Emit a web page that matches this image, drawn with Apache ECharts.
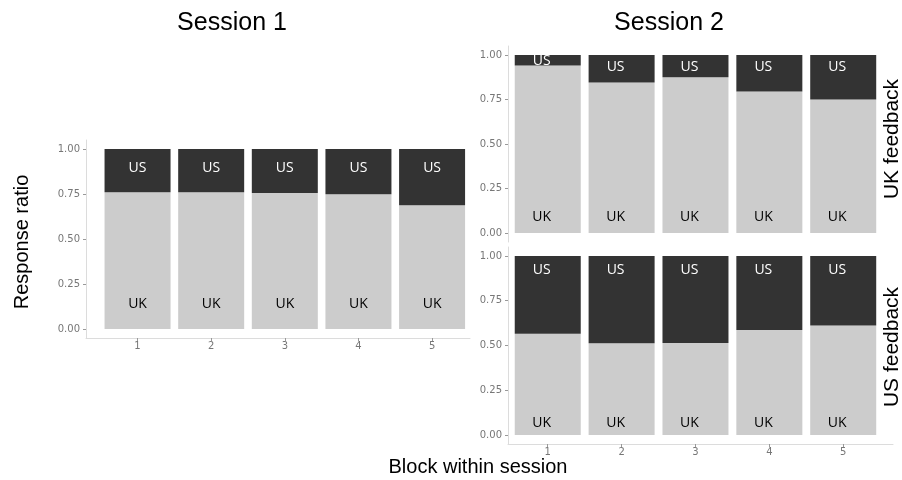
<!DOCTYPE html>
<html>
<head>
<meta charset="utf-8">
<script src="https://cdn.jsdelivr.net/npm/echarts@6/dist/echarts.min.js"></script>
<style>
  html, body { margin: 0; padding: 0; background: #fff; }
  #chart { width: 902px; height: 480px; }
</style>
</head>
<body>
<div id="chart"></div>
<script>
// block numbers (x) and tick values
const blocks = [1, 2, 3, 4, 5]
const ratioTicks = [0, 0.25, 0.5, 0.75, 1]

// session 1
const s1UK = [0.76, 0.76, 0.755, 0.748, 0.687]
const s1US = [0.24, 0.24, 0.245, 0.252, 0.313]
// session 2, UK feedback
const s2ukUK = [0.941, 0.845, 0.875, 0.795, 0.75]
const s2ukUS = [0.059, 0.155, 0.125, 0.205, 0.25]
// session 2, US feedback
const s2usUK = [0.566, 0.512, 0.514, 0.586, 0.612]
const s2usUS = [0.434, 0.488, 0.486, 0.414, 0.388]

const chart = echarts.init(document.getElementById('chart'))

const LIGHT = '#cccccc'
const DARK = '#333333'
const tickFont = { fontFamily: 'DejaVu Sans', fontSize: 10, color: '#777' }

// value first so that the stack goes on the ratio, block second (x)
const pairs = vals => blocks.map((b, i) => [vals[i], b])

const xAxisOf = (gridIndex, min, max, visible) => ({
  type: 'value',
  gridIndex,
  min,
  max,
  splitLine: { show: false },
  axisLine: { show: visible, onZero: false, lineStyle: { color: '#dcdcdc' } },
  axisTick: { show: visible, customValues: blocks, length: 3, lineStyle: { color: '#999' } },
  axisLabel: { show: visible, customValues: blocks, margin: 3, ...tickFont }
})

const yAxisOf = gridIndex => ({
  type: 'value',
  gridIndex,
  min: -0.05,
  max: 1.05,
  splitLine: { show: false },
  axisLine: { show: true, lineStyle: { color: '#dcdcdc' } },
  axisTick: { show: true, customValues: ratioTicks, length: 3, lineStyle: { color: '#999' } },
  axisLabel: {
    customValues: ratioTicks,
    margin: 6,
    formatter: v => v.toFixed(2),
    ...tickFont
  }
})

// one stacked pair of bars per panel
const panel = (idx, uk, us, ukDist, usDist, dx) => [
  {
    name: 'UK', type: 'bar', stack: 'p' + idx,
    xAxisIndex: idx, yAxisIndex: idx,
    barWidth: 66,
    encode: { x: 1, y: 0 },
    data: pairs(uk),
    itemStyle: { color: LIGHT },
    label: {
      show: true, position: 'insideBottom', distance: ukDist, offset: [dx, 0],
      formatter: 'UK', color: '#000', fontFamily: 'Open Sans', fontSize: 14
    },
    silent: true
  },
  {
    name: 'US', type: 'bar', stack: 'p' + idx,
    xAxisIndex: idx, yAxisIndex: idx,
    barWidth: 66,
    encode: { x: 1, y: 0 },
    data: pairs(us),
    itemStyle: { color: DARK },
    label: {
      show: true, position: 'insideTop', distance: usDist, offset: [dx, 0],
      formatter: 'US', color: '#fff', fontFamily: 'Open Sans', fontSize: 14
    },
    silent: true
  }
]

const bigText = (text, x, y, size, rotation) => ({
  type: 'text',
  x, y,
  rotation: rotation || 0,
  style: {
    text,
    font: size + 'px "Liberation Sans", Arial, sans-serif',
    fill: '#000',
    textAlign: 'center',
    textVerticalAlign: 'middle'
  }
})

const series = [
  ...panel(0, s1UK, s1US, 18, 12, 0),
  ...panel(1, s2ukUK, s2ukUS, 9, 5, -6),
  ...panel(2, s2usUK, s2usUS, 5, 7, -6)
]
// the thin US slice in block 1 has its label sitting on the top edge
series[3].data[0] = { value: series[3].data[0], label: { distance: -1 } }

const option = {
  animation: false,
  backgroundColor: '#fff',
  grid: [
    { left: 86, top: 140, width: 384, height: 198 },
    { left: 508, top: 46, width: 385, height: 196 },
    { left: 508, top: 247, width: 385, height: 197 }
  ],
  xAxis: [
    xAxisOf(0, 0.3, 5.515, true),
    xAxisOf(1, 0.462, 5.674, false),
    xAxisOf(2, 0.462, 5.674, true)
  ],
  yAxis: [yAxisOf(0), yAxisOf(1), yAxisOf(2)],
  series,
  graphic: [
    bigText('Session 1', 232, 23, 25),
    bigText('Session 2', 669, 23, 25),
    bigText('Response ratio', 22, 242, 20, Math.PI / 2),
    bigText('Block within session', 478, 467, 20),
    bigText('UK feedback', 892, 139, 21, Math.PI / 2),
    bigText('US feedback', 892, 347, 21, Math.PI / 2)
  ]
}

chart.setOption(option)
</script>
</body>
</html>
